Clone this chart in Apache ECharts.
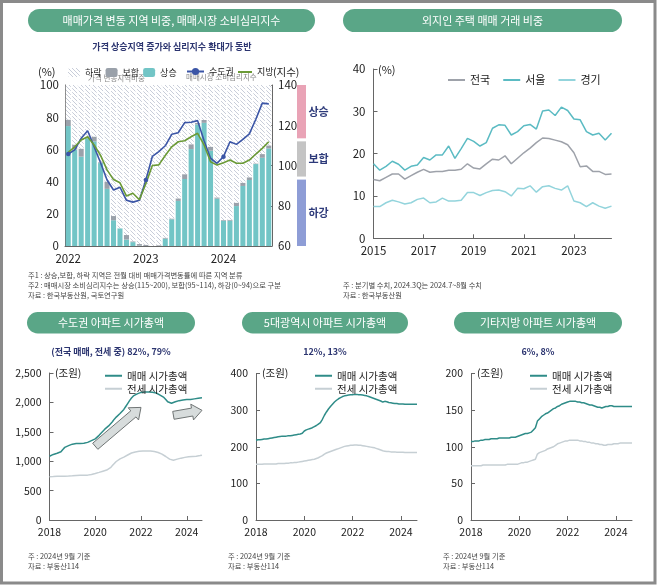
<!DOCTYPE html>
<html><head><meta charset="utf-8">
<script src="https://cdn.jsdelivr.net/npm/echarts@6/dist/echarts.min.js"></script>
<style>html,body{margin:0;padding:0;background:#fff}#c{width:658px;height:585px}</style>
</head><body><div id="c"></div>
<script>
// ---------- DATA ----------
// Top-left: monthly 2022.01 ~ 2024.08
const tlMonths = [];
for (let y = 2022; y <= 2024; y++) for (let m = 1; m <= 12; m++) if (!(y === 2024 && m > 8)) tlMonths.push(y + '.' + String(m).padStart(2, '0'));
const riseShare = [74.5,60.0,55.5,67.0,65.0,51.5,35.5,16.0,11.0,4.0,2.4,0.2,0,0,0,4.6,16.6,28.0,41.6,60.2,75.5,76.5,59.2,29.4,15.7,15.7,24.8,37.3,41.0,50.9,54.8,60.6];
const flatShare = [4.0,3.0,5.0,0.5,3.0,0.5,4.5,2.6,0,2.8,0.5,1.0,0.8,0,0.5,0.6,0.5,1.6,3.0,3.0,1.0,1.8,2.5,0.8,0.4,0.6,2.1,2.0,1.7,0.4,2.3,1.9];
const fallShare = [21.5,37.0,39.5,32.5,32.0,48.0,60.0,81.4,89.0,93.2,97.1,98.8,99.2,100,99.5,94.8,82.9,70.4,55.4,36.8,23.5,21.7,38.3,69.8,83.9,83.7,73.1,60.7,57.3,48.7,42.9,37.5];
const capitalIdx = [105.7,107.8,113.5,117.3,109.3,101.4,92.8,87.8,89.2,82.7,81.8,82.7,92.8,104.5,106.9,109.8,115.5,116.3,121.3,121.5,122.3,112.3,103.6,101.1,104.4,111.8,110.5,113.0,115.7,123.0,131.0,130.6];
const localIdx = [106.5,109.3,112.7,114.3,110.2,105.0,97.8,93.0,91.4,84.8,86.2,83.0,91.0,100.0,100.3,105.0,109.3,111.8,112.3,114.3,116.0,110.2,101.9,100.2,101.4,102.7,101.1,101.1,102.7,105.7,108.5,111.8];
const sentimentBands = [[60,93,'하강','#8e9dd6'],[94.5,112,'보합','#c4c4c4'],[113.5,140,'상승','#e9a3b6']];

// Top-right: quarterly 2015Q1 ~ 2024Q3
const trQuarters = [];
for (let y = 2015; y <= 2024; y++) for (let q = 1; q <= 4; q++) if (!(y === 2024 && q > 3)) trQuarters.push(y + 'Q' + q);
const nationShare = [13.9,13.6,14.4,15.2,15.2,14.0,14.8,15.6,16.3,15.6,15.8,15.8,16.1,16.1,16.3,17.6,16.6,16.4,17.6,18.7,18.5,19.5,17.6,18.9,20.2,21.3,22.6,23.7,23.6,23.2,22.8,22.1,20.2,16.9,17.1,15.8,15.8,15.1,15.2];
const seoulShare = [17.6,16.1,17.0,18.2,17.5,16.1,17.0,17.3,19.1,18.5,19.7,19.7,21.8,18.9,21.2,23.6,22.9,21.8,22.6,26.0,26.8,26.7,24.4,25.2,26.6,26.9,25.8,30.1,30.3,29.0,31.0,30.2,28.2,28.0,25.2,24.4,24.8,23.2,24.8];
const gyeonggiShare = [7.5,7.5,8.4,9.0,8.6,8.1,8.4,9.2,9.5,8.4,8.6,9.5,8.8,8.8,9.0,10.8,10.8,10.1,10.8,11.3,11.4,11.0,10.0,11.8,11.7,12.4,10.9,12.2,12.4,11.8,11.4,12.4,8.8,8.4,7.5,8.4,7.6,7.1,7.6];

// Bottom: monthly 2018.01 ~ 2024.09 (조원)
const capMonths = [];
for (let y = 2018; y <= 2024; y++) for (let m = 1; m <= 12; m++) if (!(y === 2024 && m > 9)) capMonths.push(y + '.' + String(m).padStart(2, '0'));
const capitalSale = [1085,1100,1115,1125,1135,1145,1160,1200,1235,1250,1265,1285,
 1290,1295,1300,1300,1300,1302,1305,1310,1320,1335,1350,1360,
 1380,1410,1440,1475,1510,1545,1570,1600,1630,1670,1715,1750,
 1780,1810,1840,1880,1930,1980,2030,2075,2110,2130,2145,2160,
 2170,2175,2175,2175,2175,2175,2172,2168,2160,2145,2125,2105,
 2085,2050,2010,1990,1985,1985,2010,2030,2030,2035,2040,2045,
 2048,2050,2050,2052,2060,2065,2070,2075,2080];
const capitalJeonse = [735,737,738,740,742,743,744,745,746,746,748,750,
 752,754,757,758,759,760,761,762,763,768,775,783,
 791,800,810,820,830,840,850,860,890,925,960,995,
 1025,1040,1055,1070,1085,1105,1125,1140,1150,1158,1163,1168,
 1172,1174,1175,1175,1175,1174,1170,1165,1158,1148,1135,1120,
 1102,1080,1055,1035,1022,1017,1025,1035,1045,1052,1058,1065,
 1073,1075,1078,1080,1082,1085,1090,1096,1102];
const metroSale = [218,219,219,220,221,221,222,223,224,225,226,227,
 228,229,229,229,230,230,231,232,233,234,235,237,
 243,246,248,250,252,255,258,262,266,275,286,295,
 303,310,316,322,327,331,334,337,339,340,341,342,
 342,343,343,342,342,341,340,339,337,335,333,331,
 329,327,325,322,324,323,321,320,319,318,318,317,
 317,317,316,316,316,316,316,316,316];
const metroJeonse = [152,152,152,152,153,153,153,153,153,153,153,154,
 154,154,154,155,155,156,156,157,157,158,159,160,
 161,162,163,164,165,166,168,170,173,176,180,183,
 185,187,189,191,193,195,197,199,201,202,203,204,
 204,205,205,204,204,203,202,201,200,199,198,197,
 195,193,191,189,188,187,187,186,186,186,185,185,
 185,185,184,184,184,184,184,184,184];
const otherSale = [107,107,108,108,108,109,109,110,110,110,111,111,
 111,111,112,112,112,112,112,112,113,113,113,114,
 115,116,117,118,118,119,120,123,126,135,138,141,
 143,145,146,148,150,152,153,155,156,158,159,160,
 161,162,162,162,162,161,161,160,160,159,158,157,
 157,156,155,154,154,153,154,155,155,156,156,155,
 155,155,155,155,155,155,155,155,155];
const otherJeonse = [74,74,74,74,74,74,75,75,75,75,75,75,
 75,75,75,75,75,75,76,76,76,76,76,76,
 77,78,78,79,79,80,81,82,83,90,92,93,
 94,95,97,98,99,100,102,104,105,106,107,108,
 108,109,109,109,109,109,108,108,107,107,106,106,
 105,105,104,104,103,103,102,102,103,103,103,104,
 104,104,105,105,105,105,105,105,105];
// trend arrows on 수도권 chart: [month index, value]
const capArrows = [[[24,1254],[47.5,1915]],[[65,1780],[80,1865]]];

// ---------- STYLE ----------
const F = "'Noto Sans CJK KR','Noto Sans',sans-serif";
const TEAL = '#72c5c6', GRAY = '#9aa1aa', NAVY = '#3b55a6', GREEN = '#6b9a36';
const SALE = '#2f8c88', JEONSE = '#c6cfd4';
const hatch = (() => { const c = document.createElement('canvas'); c.width = 4; c.height = 4; const g = c.getContext('2d');
  g.fillStyle = '#fff'; g.fillRect(0,0,4,4); g.strokeStyle = '#c8cdd9'; g.lineWidth = 1;
  g.beginPath(); g.moveTo(-1,-1); g.lineTo(5,5); g.moveTo(-1,3); g.lineTo(1,5); g.moveTo(3,-1); g.lineTo(5,1); g.stroke(); return c; })();

const axisLineStyle = {lineStyle:{color:'#666', width:1}};
const lbl = (o) => Object.assign({color:'#222', fontSize:11, fontFamily:F}, o || {});
function yAx(gi, min, max, iv, extra) {
  return Object.assign({type:'value', gridIndex:gi, min, max, interval:iv, splitLine:{show:false},
    axisLine:Object.assign({show:true}, axisLineStyle), axisTick:{show:true, inside:true, length:4, lineStyle:{color:'#666'}},
    axisLabel:lbl({margin:8})}, extra || {});
}
function catX(gi, data, every, fmt, gap, fs) {
  return {type:'category', gridIndex:gi, data, boundaryGap:gap,
    axisLine:axisLineStyle, axisTick:{show:!gap, inside:true, length:4, interval:(i)=>i%every===0, lineStyle:{color:'#666'}},
    axisLabel:lbl({interval:(i)=>i%every===0, formatter:fmt, fontSize:fs || 11.5, margin:7})};
}
const yearFmt = v => v.slice(0,4);
const comma = v => v.toLocaleString('en-US');
const LT = (fs) => ({fontSize:fs, color:'#222', fontFamily:F});

const chart = echarts.init(document.getElementById('c'), null, {renderer:'canvas'});
const option = {
  animation:false,
  textStyle:{fontFamily:F},
  grid:[
    {left:65, top:85, width:207, height:161, outerBoundsMode:'none'},
    {left:297, top:85, width:9, height:161, outerBoundsMode:'none'},
    {left:373.5, top:69, width:238, height:169.3, outerBoundsMode:'none'},
    {left:49.5, top:373, width:152.5, height:147, outerBoundsMode:'none'},
    {left:256, top:373.5, width:161, height:146.5, outerBoundsMode:'none'},
    {left:471, top:373.5, width:161, height:146.5, outerBoundsMode:'none'}
  ],
  xAxis:[
    Object.assign(catX(0, tlMonths, 12, yearFmt, true), {axisTick:{show:false}}),
    {type:'value', gridIndex:1, min:-1, max:1, show:false},
    catX(2, trQuarters, 8, yearFmt, false),
    catX(3, capMonths, 24, yearFmt, false, 10.5),
    catX(4, capMonths, 24, yearFmt, false, 10.5),
    catX(5, capMonths, 24, yearFmt, false, 10.5)
  ],
  yAxis:[
    yAx(0, 0, 100, 20, {axisLabel:lbl({fontSize:11.5, margin:6})}),
    yAx(0, 60, 140, 20, {position:'right', axisLabel:lbl({fontSize:11.5, margin:6})}),
    {type:'value', gridIndex:1, min:60, max:140, show:false},
    yAx(2, 0, 40, 10, {axisLabel:lbl({fontSize:11.5, margin:8})}),
    yAx(3, 0, 2500, 500, {axisLabel:lbl({formatter:comma, fontSize:10.5, margin:8})}),
    yAx(4, 0, 400, 100, {axisLabel:lbl({fontSize:10.5, margin:8})}),
    yAx(5, 0, 200, 50, {axisLabel:lbl({fontSize:10.5, margin:8})})
  ],
  legend:[
    {data:['하락','보합','상승'], left:63, top:63, itemWidth:12, itemHeight:9, itemGap:4, textStyle:LT(9)},
    {data:['수도권'], left:181, top:62, itemWidth:17, itemHeight:9, textStyle:LT(9)},
    {data:[{name:'지방', icon:'rect'}], left:233, top:62.5, itemWidth:14, itemHeight:2, textStyle:LT(9)},
    {data:['전국','서울','경기'], icon:'rect', left:443, top:69.5, itemWidth:17, itemHeight:2, itemGap:13, textStyle:LT(11)},
    {data:['매매 시가총액','전세 시가총액'], icon:'rect', orient:'vertical', left:100, top:365.5, itemWidth:17, itemHeight:2, itemGap:2.5, textStyle:LT(10.5)},
    {data:['매매 시가총액','전세 시가총액'], icon:'rect', orient:'vertical', left:310, top:365.5, itemWidth:17, itemHeight:2, itemGap:2.5, textStyle:LT(10.5)},
    {data:['매매 시가총액','전세 시가총액'], icon:'rect', orient:'vertical', left:525, top:365.5, itemWidth:17, itemHeight:2, itemGap:2.5, textStyle:LT(10.5)}
  ],
  series:[
    {name:'상승', type:'bar', stack:'s', xAxisIndex:0, yAxisIndex:0, data:riseShare, itemStyle:{color:TEAL}, barCategoryGap:'22%'},
    {name:'보합', type:'bar', stack:'s', xAxisIndex:0, yAxisIndex:0, data:flatShare, itemStyle:{color:GRAY}},
    {name:'하락', type:'bar', stack:'s', xAxisIndex:0, yAxisIndex:0, data:fallShare, itemStyle:{color:{image:hatch, repeat:'repeat'}}},
    {name:'수도권', type:'line', xAxisIndex:0, yAxisIndex:1, data:capitalIdx, symbol:'circle', symbolSize:4.5,
      lineStyle:{color:NAVY, width:1.6}, itemStyle:{color:NAVY}},
    {name:'지방', type:'line', xAxisIndex:0, yAxisIndex:1, data:localIdx, symbol:'none',
      lineStyle:{color:GREEN, width:1.6}, itemStyle:{color:GREEN}},
    {name:'bands', type:'custom', xAxisIndex:1, yAxisIndex:2, data:sentimentBands, silent:true,
      renderItem:(p, api) => {
        const b = sentimentBands[p.dataIndex];
        const lo = api.coord([0, b[0]]), hi = api.coord([0, b[1]]);
        return {type:'group', children:[
          {type:'rect', shape:{x:lo[0]-4.5, y:hi[1], width:9, height:lo[1]-hi[1]}, style:{fill:b[3]}},
          {type:'text', x:lo[0]+7, y:(lo[1]+hi[1])/2, style:{text:b[2], fill:'#2d3a7a', font:'bold 11px '+F, verticalAlign:'middle'}}
        ]};
      }, encode:{x:-1, y:[0,1]}},
    {name:'전국', type:'line', xAxisIndex:2, yAxisIndex:3, data:nationShare, symbol:'none', lineStyle:{color:'#9ea2aa', width:1.5}, itemStyle:{color:'#9ea2aa'}},
    {name:'서울', type:'line', xAxisIndex:2, yAxisIndex:3, data:seoulShare, symbol:'none', lineStyle:{color:'#5bbbc3', width:1.5}, itemStyle:{color:'#5bbbc3'}},
    {name:'경기', type:'line', xAxisIndex:2, yAxisIndex:3, data:gyeonggiShare, symbol:'none', lineStyle:{color:'#93d4dc', width:1.5}, itemStyle:{color:'#93d4dc'}},
    {name:'매매 시가총액', type:'line', xAxisIndex:3, yAxisIndex:4, data:capitalSale, symbol:'none', lineStyle:{color:SALE, width:1.5}, itemStyle:{color:SALE}},
    {name:'전세 시가총액', type:'line', xAxisIndex:3, yAxisIndex:4, data:capitalJeonse, symbol:'none', lineStyle:{color:JEONSE, width:1.5}, itemStyle:{color:JEONSE}},
    {name:'매매 시가총액', type:'line', xAxisIndex:4, yAxisIndex:5, data:metroSale, symbol:'none', lineStyle:{color:SALE, width:1.5}, itemStyle:{color:SALE}},
    {name:'전세 시가총액', type:'line', xAxisIndex:4, yAxisIndex:5, data:metroJeonse, symbol:'none', lineStyle:{color:JEONSE, width:1.5}, itemStyle:{color:JEONSE}},
    {name:'매매 시가총액', type:'line', xAxisIndex:5, yAxisIndex:6, data:otherSale, symbol:'none', lineStyle:{color:SALE, width:1.5}, itemStyle:{color:SALE}},
    {name:'전세 시가총액', type:'line', xAxisIndex:5, yAxisIndex:6, data:otherJeonse, symbol:'none', lineStyle:{color:JEONSE, width:1.5}, itemStyle:{color:JEONSE}}
  ]
};
chart.setOption(option);

// ---------- TEXT / DECORATION ----------
const PILL = '#5aa687';
function pill(x, y, w, h, text) {
  return {type:'group', children:[
    {type:'rect', shape:{x, y, width:w, height:h, r:h/2}, style:{fill:PILL}},
    {type:'text', x:x+w/2, y:y+h/2, style:{text, fill:'#fff', font:'11px '+F, align:'center', verticalAlign:'middle'}}
  ]};
}
function txt(x, y, text, font, fill, align) {
  return {type:'text', x, y, style:{text, font:font+' '+F, fill:fill||'#222', align:align||'left', verticalAlign:'middle'}};
}
function arrowShape(p0, p1) {
  const bw = 8, hw = 16, hl = 10;
  const dx = p1[0]-p0[0], dy = p1[1]-p0[1], L = Math.hypot(dx, dy), ux = dx/L, uy = dy/L, nx = -uy, ny = ux;
  const bx = p1[0]-ux*hl, by = p1[1]-uy*hl;
  return [[p0[0]+nx*bw/2, p0[1]+ny*bw/2],[bx+nx*bw/2, by+ny*bw/2],[bx+nx*hw/2, by+ny*hw/2],p1,
          [bx-nx*hw/2, by-ny*hw/2],[bx-nx*bw/2, by-ny*bw/2],[p0[0]-nx*bw/2, p0[1]-ny*bw/2]];
}
const NOTE = '7.3px', NC = '#444';
const graphics = [
  {type:'rect', shape:{x:1.5, y:1.5, width:653.5, height:581.5}, style:{fill:null, stroke:'#8a8a8a', lineWidth:3}, silent:true},
  pill(28, 9, 287, 23, '매매가격 변동 지역 비중, 매매시장 소비심리지수'),
  pill(343, 9, 279, 23, '외지인 주택 매매 거래 비중'),
  pill(27, 312, 168, 21.5, '수도권 아파트 시가총액'),
  pill(242, 312, 166, 21.5, '5대광역시 아파트 시가총액'),
  pill(454, 312, 168, 21.5, '기타지방 아파트 시가총액'),
  txt(172, 47, '가격 상승지역 증가와 심리지수 확대가 동반', 'bold 9px', '#2c3570', 'center'),
  txt(38, 72, '(%)', '11px'),
  txt(273, 72, '(지수)', '10.5px', '#222', 'left'),
  txt(88, 78.5, '가격 변동지역비중', '7.5px', '#8a8a8a'),
  txt(186, 77.5, '매매시장 소비심리지수', '7.5px', '#8a8a8a'),
  txt(28, 275, '주1 : 상승,보합, 하락 지역은 전월 대비 매매가격변동률에 따른 지역 분류', NOTE, NC),
  txt(28, 285.5, '주2 : 매매시장 소비심리지수는 상승(115~200), 보합(95~114), 하강(0~94)으로 구분', NOTE, NC),
  txt(28, 295.5, '자료 : 한국부동산원, 국토연구원', NOTE, NC),
  txt(378, 70, '(%)', '11px'),
  txt(343, 285, '주 : 분기별 수치, 2024.3Q는 2024.7~8월 수치', NOTE, NC),
  txt(343, 295.5, '자료 : 한국부동산원', NOTE, NC),
  txt(111, 352, '(전국 매매, 전세 중) 82%, 79%', 'bold 9px', '#2c3570', 'center'),
  txt(325, 352, '12%, 13%', 'bold 9px', '#2c3570', 'center'),
  txt(538, 352, '6%, 8%', 'bold 9px', '#2c3570', 'center'),
  txt(55, 373, '(조원)', '10.5px'),
  txt(262, 373.5, '(조원)', '10.5px'),
  txt(477, 373.5, '(조원)', '10.5px'),
  txt(28, 556.5, '주 : 2024년 9월 기준', NOTE, NC),
  txt(28, 566.5, '자료 : 부동산114', NOTE, NC),
  txt(228, 556.5, '주 : 2024년 9월 기준', NOTE, NC),
  txt(228, 566.5, '자료 : 부동산114', NOTE, NC),
  txt(443, 556.5, '주 : 2024년 9월 기준', NOTE, NC),
  txt(443, 566.5, '자료 : 부동산114', NOTE, NC)
];
capArrows.forEach(a => {
  const p0 = chart.convertToPixel({xAxisIndex:3, yAxisIndex:4}, a[0]);
  const p1 = chart.convertToPixel({xAxisIndex:3, yAxisIndex:4}, a[1]);
  graphics.push({type:'polygon', shape:{points:arrowShape(p0, p1)}, style:{fill:'#d7dcdc', stroke:'#6f7474', lineWidth:1}, z:5});
});
chart.setOption({graphic:graphics});
</script></body></html>
